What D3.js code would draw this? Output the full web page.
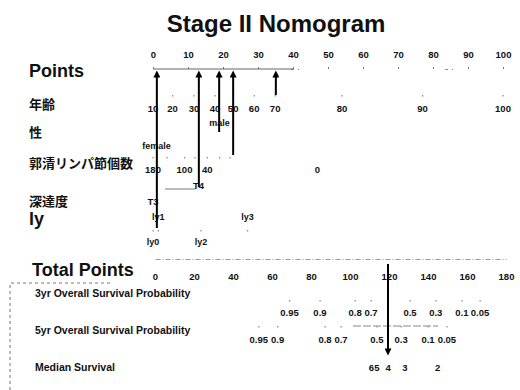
<!DOCTYPE html>
<html>
<head>
<meta charset="utf-8">
<script src="https://cdn.jsdelivr.net/npm/d3@7"></script>
<style>
  body { margin: 0; background: #fff; }
  svg text { fill: #111; }
</style>
</head>
<body>
<div id="chart"></div>
<script>
// points scale ticks (top axis)
const pointsTicks = [0, 10, 20, 30, 40, 50, 60, 70, 80, 90, 100];
// total points ticks
const totalTicks = [0, 20, 40, 60, 80, 100, 120, 140, 160, 180];

// each predictor: label text and where it sits on the points scale
const ageLabels = ["10", "20", "30", "40", "50", "60", "70", "80", "90", "100"];
const agePoints = [0, 5.6, 11.7, 17.7, 22.9, 28.9, 34.9, 54, 77, 100];
const sexLabels = ["male", "female"];
const sexPoints = [19, 1];
const nodeLabels = ["180", "100", "40", "0"];
const nodePoints = [0, 9, 15.5, 47];
const depthLabels = ["T4", "T3"];
const depthPoints = [13, 0];
const lyLabels = ["ly1", "ly3", "ly0", "ly2"];
const lyPoints = [1.5, 27, 0, 13.7];

// outcome scales, positions in total points
const surv3Labels = ["0.95", "0.9", "0.8", "0.7", "0.5", "0.3", "0.1", "0.05"];
const surv3Total = [69, 84.6, 102.6, 110.8, 130.8, 144, 157.4, 166.7];
const surv5Labels = ["0.95", "0.9", "0.8", "0.7", "0.5", "0.3", "0.1", "0.05"];
const surv5Total = [53.2, 62.9, 87.2, 95.4, 113.8, 126.2, 140, 149.7];
const medianLabels = ["6", "5", "4", "3", "2"];
const medianTotal = [111, 113.8, 119.5, 128.2, 145];

// example patient read-off arrows (points value, row they come from)
const arrowPoints = [1.1, 13.1, 18.9, 22.9, 35.1];
const arrowRows = ["ly", "depth", "sex", "nodes", "age"];
const totalArrow = 119.5;

const width = 520, height = 390;
const svg = d3.select("#chart").append("svg")
  .attr("width", width).attr("height", height)
  .style("font-family", "'Liberation Sans', Arial, sans-serif");

const x = d3.scaleLinear().domain([0, 100]).range([153, 503]);
const xt = d3.scaleLinear().domain([0, 180]).range([155, 506]);

// where each arrow starts
const rowEnd = { age: 95, sex: 132, nodes: 155, depth: 187, ly: 228 };
const jp = "'Noto Sans CJK JP', 'Noto Sans', sans-serif";

svg.append("text").attr("x", 276).attr("y", 32)
  .attr("text-anchor", "middle")
  .style("font-size", "24px").style("font-weight", "bold")
  .text("Stage II Nomogram");

// row titles
const leftLabels = [
  { t: "Points", y: 77, size: 18, f: null },
  { t: "年齢", y: 109, size: 13, f: jp },
  { t: "性", y: 137, size: 13, f: jp },
  { t: "郭清リンパ節個数", y: 168, size: 13, f: jp },
  { t: "深達度", y: 206, size: 13, f: jp },
  { t: "ly", y: 225, size: 18, f: null }
];
leftLabels.forEach(d => {
  const t = svg.append("text").attr("x", 29).attr("y", d.y)
    .style("font-size", d.size + "px").style("font-weight", "bold").text(d.t);
  if (d.f) t.style("font-family", d.f);
});

// points axis: solid to 40, then broken (faded scan)
const pAxis = svg.append("g").attr("transform", "translate(0,69)")
  .call(d3.axisTop(x).tickValues(pointsTicks).tickSize(2).tickPadding(9));
pAxis.select(".domain").attr("stroke", "#888").attr("stroke-dasharray", "0,140,3,4,1,6");
pAxis.append("line").attr("x1", x(0)).attr("x2", x(40))
  .attr("stroke", "#666").attr("stroke-width", 1.2);
pAxis.selectAll(".tick line").attr("stroke", "#777");
pAxis.selectAll("text").style("font-size", "9.5px").style("font-weight", "bold").attr("fill", "#111");

function tickRow(labels, pts, y, size) {
  svg.append("g").selectAll("text").data(labels).join("text")
    .attr("x", (d, i) => x(pts[i]))
    .attr("y", Array.isArray(y) ? (d, i) => y[i] : y)
    .attr("text-anchor", "middle")
    .style("font-size", (size || 9.5) + "px").style("font-weight", "bold")
    .text(d => d);
}

// faint tick dots
function dots(pts, y, scale) {
  svg.append("g").selectAll("rect").data(pts).join("rect")
    .attr("x", d => (scale || x)(d) - 0.5).attr("y", y)
    .attr("width", 1.2).attr("height", 1.5).attr("fill", "#888");
}

dots(agePoints.slice(1), 95);
tickRow(ageLabels, agePoints, 112);
tickRow(sexLabels, sexPoints, [126, 149], 9);
dots(nodePoints.slice(0, 3).concat([4, 12, 19, 22]), 157);
tickRow(nodeLabels, nodePoints, 173);

svg.append("line")
  .attr("x1", x(depthPoints[1]) + 12).attr("x2", x(depthPoints[0]) - 3)
  .attr("y1", 189).attr("y2", 189).attr("stroke", "#777").attr("stroke-width", 1);
tickRow(depthLabels, depthPoints, [189, 205]);
dots(lyPoints, 230);
tickRow(lyLabels, lyPoints, [220, 220, 245, 245], 9);

// arrows up to points axis
const defs = svg.append("defs");
defs.append("marker").attr("id", "head")
  .attr("viewBox", "0 0 10 10").attr("refX", 5).attr("refY", 5)
  .attr("markerWidth", 4).attr("markerHeight", 3.5)
  .attr("orient", "auto-start-reverse")
  .append("path").attr("d", "M0,0L10,5L0,10z").attr("fill", "#000");

svg.append("g").selectAll("line").data(arrowPoints).join("line")
  .attr("x1", d => x(d)).attr("x2", d => x(d))
  .attr("y1", (d, i) => rowEnd[arrowRows[i]]).attr("y2", 74)
  .attr("stroke", "#000").attr("stroke-width", 2)
  .attr("marker-end", "url(#head)");

// total points
svg.append("text").attr("x", 32).attr("y", 276)
  .style("font-size", "18px").style("font-weight", "bold").text("Total Points");

const tAxis = svg.append("g").attr("transform", "translate(0,259)")
  .call(d3.axisBottom(xt).tickValues(totalTicks).tickSize(0).tickPadding(14));
tAxis.select(".domain").attr("stroke", "#999").attr("stroke-dasharray", "5,2,1,2");
tAxis.selectAll("text").style("font-size", "9.5px").style("font-weight", "bold").attr("fill", "#111");

// outcome rows
const outRows = [
  { t: "3yr Overall Survival Probability", y: 297, labels: surv3Labels, tot: surv3Total, vy: 316, dy: 300 },
  { t: "5yr Overall Survival Probability", y: 334, labels: surv5Labels, tot: surv5Total, vy: 343, dy: 326 },
  { t: "Median Survival", y: 371, labels: medianLabels, tot: medianTotal, vy: 371, dy: null }
];
outRows.forEach(r => {
  svg.append("text").attr("x", 35).attr("y", r.y)
    .style("font-size", "10.5px").style("font-weight", "bold").text(r.t);
  if (r.dy) dots(r.tot, r.dy, xt);
  svg.append("g").selectAll("text").data(r.labels).join("text")
    .attr("x", (d, i) => xt(r.tot[i])).attr("y", r.vy)
    .attr("text-anchor", "middle")
    .style("font-size", "9.5px").style("font-weight", "bold")
    .text(d => d);
});
svg.append("line")
  .attr("x1", xt(surv5Total[3]) + 12).attr("x2", xt(surv5Total[6]) + 10)
  .attr("y1", 326).attr("y2", 326).attr("stroke", "#888").attr("stroke-dasharray", "8,2");

// arrow from total points down to outcomes
svg.append("line")
  .attr("x1", xt(totalArrow)).attr("x2", xt(totalArrow))
  .attr("y1", 264).attr("y2", 352)
  .attr("stroke", "#000").attr("stroke-width", 2)
  .attr("marker-end", "url(#head)");

// scan frame remnants
svg.append("path").attr("d", "M10,390V283H110")
  .attr("fill", "none").attr("stroke", "#777").attr("stroke-dasharray", "3,3");
</script>
</body>
</html>
